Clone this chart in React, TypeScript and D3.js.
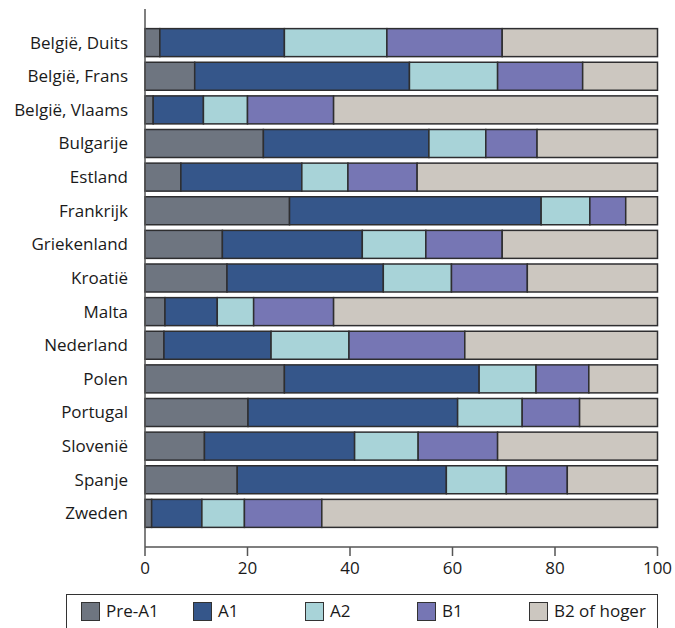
import React from "react";
import * as d3 from "d3";

const categories = [
  "België, Duits", "België, Frans", "België, Vlaams", "Bulgarije", "Estland",
  "Frankrijk", "Griekenland", "Kroatië", "Malta", "Nederland", "Polen",
  "Portugal", "Slovenië", "Spanje", "Zweden",
];
const seriesNames = ["Pre-A1", "A1", "A2", "B1", "B2 of hoger"];
const preA1 = [2.9, 9.7, 1.6, 23.1, 7.0, 28.2, 15.1, 16.0, 3.9, 3.7, 27.2, 20.1, 11.6, 18.0, 1.3];
const a1 = [24.3, 41.9, 9.8, 32.3, 23.6, 49.1, 27.3, 30.5, 10.2, 20.9, 38.0, 40.9, 29.3, 40.8, 9.8];
const a2 = [20.0, 17.2, 8.6, 11.1, 9.0, 9.5, 12.4, 13.3, 7.1, 15.2, 11.1, 12.6, 12.4, 11.7, 8.3];
const b1 = [22.5, 16.6, 16.8, 10.0, 13.5, 7.0, 14.9, 14.8, 15.6, 22.6, 10.3, 11.2, 15.5, 11.9, 15.1];
const b2 = [30.3, 14.6, 63.2, 23.5, 46.9, 6.2, 30.3, 25.4, 63.2, 37.6, 13.4, 15.2, 31.2, 17.6, 65.5];
const xTicks = [0, 20, 40, 60, 80, 100];
const colors = ["#6e7580", "#35568a", "#a8d3d8", "#7676b4", "#ccc7c0"];

const W = 675, H = 628;
const FONT = "'Open Sans', sans-serif";

export default function App() {
  const x = d3.scaleLinear().domain([0, 100]).range([145, 657.5]);
  const y = d3.scalePoint<string>().domain(categories).range([9, 547]).padding(1);
  const barH = 28;
  const stackData = categories.map((c, i) => ({
    cat: c,
    "0": preA1[i],
    "1": a1[i],
    "2": a2[i],
    "3": b1[i],
    "4": b2[i],
  }));
  const stacked = d3.stack<any>().keys(seriesNames.map((_, k) => String(k)))(stackData);

  return (
    <svg width={W} height={H} style={{ display: "block", position: "absolute", left: 0, top: 0 }}>
      <rect width={W} height={H} fill="#fff" />
      {stacked.map((layer, k) => (
        <g key={k}>
          {layer.map((d, i) => {
            const x0 = x(d[0]);
            const x1 = x(d[1]);
            const yc = y(categories[i])!;
            return (
              <rect
                key={i}
                x={x0}
                y={yc - barH / 2}
                width={Math.max(0, x1 - x0)}
                height={barH}
                fill={colors[k]}
                stroke="#2e2e30"
                strokeWidth={1.5}
              />
            );
          })}
        </g>
      ))}
      {categories.map((c) => (
        <text
          key={c}
          x={128}
          y={y(c)!}
          dy="0.35em"
          textAnchor="end"
          fontFamily={FONT}
          fontSize={17}
          fill="#1a1a1a"
        >
          {c}
        </text>
      ))}
      <line x1={145} x2={145} y1={9} y2={547} stroke="#555" strokeWidth={1.5} />
      <line x1={145} x2={657.5} y1={547} y2={547} stroke="#555" strokeWidth={1.5} />
      {xTicks.map((t) => (
        <g key={t}>
          <line x1={x(t)} x2={x(t)} y1={547} y2={556} stroke="#555" strokeWidth={1.5} />
          <text
            x={x(t)}
            y={574}
            textAnchor="middle"
            fontFamily={FONT}
            fontSize={17}
            fill="#1a1a1a"
          >
            {t}
          </text>
        </g>
      ))}
      <rect x={66.5} y={594.5} width={591} height={45} fill="none" stroke="#333" strokeWidth={1} />
      {seriesNames.map((s, k) => (
        <g key={s} transform={`translate(${81 + k * 112},602)`}>
          <rect x={0.5} y={0.5} width={18} height={18} fill={colors[k]} stroke="#333" strokeWidth={1} />
          <text x={25} y={9.5} dy="0.35em" fontFamily={FONT} fontSize={17} fill="#1a1a1a">
            {s}
          </text>
        </g>
      ))}
    </svg>
  );
}
